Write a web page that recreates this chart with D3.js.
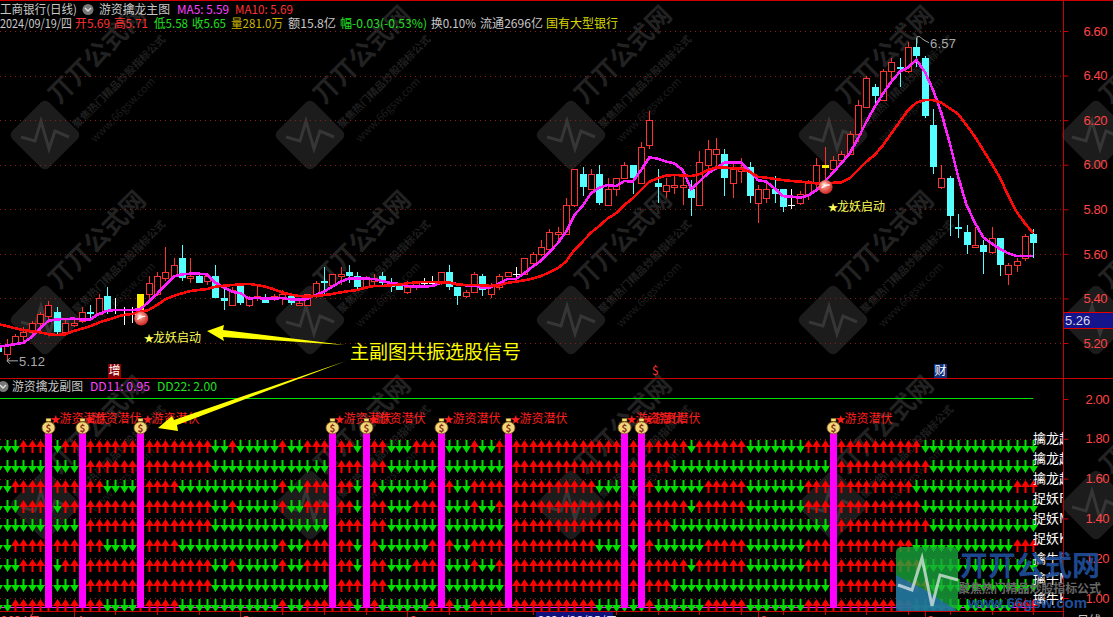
<!DOCTYPE html>
<html><head><meta charset="utf-8">
<script src="https://cdn.jsdelivr.net/npm/d3@7/dist/d3.min.js"></script>
<style>html,body{margin:0;padding:0;background:#000;overflow:hidden}svg{display:block}text{font-family:"Noto Sans CJK SC","Liberation Sans",sans-serif}</style>
</head><body><div id="chart"></div>
<script>
// ---------- price data ----------
const open=[5.18,5.15,5.20,5.23,5.25,5.29,5.32,5.34,5.25,5.28,5.30,5.34,5.33,5.41,5.35,5.33,5.33,5.33,5.42,5.42,5.49,5.50,5.58,5.49,5.50,5.48,5.50,5.40,5.37,5.46,5.37,5.40,5.40,5.40,5.40,5.41,5.37,5.37,5.41,5.48,5.46,5.50,5.52,5.50,5.45,5.48,5.50,5.47,5.46,5.43,5.45,5.47,5.47,5.47,5.52,5.45,5.41,5.43,5.50,5.42,5.45,5.50,5.51,5.51,5.56,5.60,5.62,5.69,5.69,5.82,5.96,5.89,5.96,5.82,5.89,5.94,6.00,5.92,6.09,5.92,5.88,5.90,5.90,5.89,5.82,6.00,6.05,6.05,5.92,5.97,5.99,5.83,5.85,5.89,5.89,5.82,5.83,5.87,5.92,6.00,5.98,6.02,6.05,6.14,6.26,6.35,6.29,6.42,6.44,6.42,6.53,6.48,6.18,5.90,5.94,5.72,5.70,5.63,5.64,5.61,5.67,5.51,5.55,5.58,5.69];
const high=[5.19,5.22,5.24,5.27,5.30,5.34,5.39,5.36,5.31,5.31,5.36,5.37,5.42,5.45,5.40,5.36,5.36,5.42,5.50,5.52,5.63,5.58,5.64,5.58,5.52,5.51,5.55,5.45,5.45,5.47,5.41,5.46,5.42,5.42,5.44,5.42,5.39,5.42,5.48,5.54,5.51,5.54,5.55,5.52,5.50,5.51,5.52,5.49,5.46,5.48,5.48,5.49,5.50,5.52,5.55,5.45,5.44,5.52,5.51,5.47,5.51,5.52,5.54,5.58,5.61,5.66,5.71,5.72,5.85,5.98,5.99,5.98,6.00,5.94,5.94,6.01,6.00,6.10,6.24,5.98,5.94,5.96,5.95,5.93,6.06,6.11,6.12,6.07,6.01,6.03,6.01,5.91,5.92,5.95,5.89,5.89,5.88,5.93,6.03,6.08,6.04,6.06,6.15,6.29,6.40,6.36,6.43,6.48,6.48,6.55,6.57,6.49,6.25,6.00,5.95,5.78,5.73,5.72,5.66,5.72,5.67,5.56,5.58,5.69,5.71];
const low=[5.15,5.12,5.19,5.20,5.23,5.25,5.29,5.23,5.24,5.27,5.29,5.31,5.33,5.33,5.33,5.28,5.29,5.33,5.38,5.41,5.48,5.49,5.48,5.47,5.47,5.46,5.40,5.35,5.37,5.37,5.36,5.39,5.38,5.39,5.37,5.37,5.37,5.37,5.40,5.42,5.45,5.46,5.47,5.44,5.45,5.46,5.46,5.43,5.44,5.42,5.44,5.45,5.46,5.46,5.44,5.37,5.40,5.43,5.41,5.40,5.44,5.50,5.49,5.51,5.56,5.59,5.62,5.65,5.69,5.81,5.86,5.89,5.82,5.82,5.86,5.94,5.87,5.92,6.07,5.83,5.85,5.87,5.82,5.77,5.82,5.98,5.98,5.86,5.85,5.92,5.83,5.74,5.83,5.83,5.79,5.80,5.82,5.84,5.89,5.93,5.98,6.02,6.05,6.10,6.26,6.26,6.29,6.38,6.35,6.41,6.44,6.21,5.96,5.89,5.68,5.67,5.60,5.63,5.51,5.60,5.50,5.46,5.52,5.57,5.58];
const close=[5.16,5.19,5.23,5.25,5.29,5.33,5.37,5.25,5.29,5.29,5.34,5.33,5.40,5.34,5.35,5.33,5.33,5.42,5.47,5.50,5.52,5.55,5.49,5.50,5.47,5.50,5.40,5.39,5.44,5.38,5.40,5.41,5.38,5.41,5.42,5.38,5.38,5.42,5.47,5.47,5.51,5.51,5.50,5.45,5.49,5.49,5.47,5.45,5.44,5.45,5.47,5.47,5.47,5.52,5.45,5.41,5.43,5.51,5.44,5.46,5.50,5.52,5.51,5.58,5.60,5.63,5.70,5.70,5.82,5.98,5.90,5.96,5.83,5.89,5.94,6.00,5.94,6.08,6.20,5.90,5.91,5.91,5.91,5.85,6.01,6.07,6.07,5.94,5.98,5.99,5.86,5.89,5.89,5.87,5.81,5.82,5.87,5.92,6.00,6.00,6.02,6.05,6.14,6.27,6.39,6.31,6.42,6.46,6.43,6.53,6.49,6.22,5.99,5.94,5.77,5.71,5.64,5.64,5.61,5.67,5.55,5.55,5.57,5.68,5.65];
const ma5=[5.184,5.188,5.195,5.201,5.228,5.266,5.300,5.306,5.308,5.309,5.306,5.305,5.330,5.344,5.348,5.348,5.348,5.351,5.385,5.420,5.460,5.498,5.508,5.511,5.511,5.508,5.471,5.450,5.430,5.423,5.400,5.402,5.399,5.399,5.402,5.396,5.394,5.397,5.415,5.430,5.453,5.475,5.490,5.490,5.489,5.487,5.478,5.469,5.465,5.456,5.453,5.453,5.456,5.470,5.469,5.465,5.459,5.459,5.447,5.450,5.468,5.487,5.487,5.513,5.542,5.569,5.607,5.647,5.699,5.774,5.815,5.871,5.897,5.909,5.904,5.927,5.924,5.976,6.033,6.027,6.014,6.006,5.976,5.891,5.924,5.961,5.984,6.009,6.011,6.011,5.972,5.931,5.924,5.894,5.859,5.857,5.852,5.861,5.886,5.924,5.964,6.006,6.051,6.118,6.193,6.260,6.320,6.373,6.417,6.437,6.470,6.417,6.335,6.230,6.096,5.946,5.819,5.740,5.674,5.647,5.622,5.602,5.590,5.590,5.590];
const ma10=[5.284,5.276,5.266,5.258,5.254,5.248,5.239,5.236,5.239,5.254,5.264,5.276,5.291,5.303,5.315,5.326,5.330,5.340,5.348,5.370,5.396,5.411,5.423,5.433,5.438,5.442,5.453,5.457,5.460,5.463,5.465,5.460,5.453,5.441,5.427,5.417,5.411,5.408,5.411,5.415,5.420,5.427,5.433,5.438,5.448,5.456,5.456,5.459,5.462,5.468,5.472,5.474,5.474,5.472,5.472,5.463,5.460,5.460,5.459,5.456,5.459,5.470,5.475,5.481,5.489,5.500,5.517,5.535,5.565,5.617,5.655,5.695,5.725,5.759,5.782,5.819,5.849,5.886,5.924,5.939,5.951,5.954,5.952,5.949,5.958,5.976,5.987,5.987,5.985,5.981,5.969,5.946,5.942,5.936,5.931,5.927,5.924,5.921,5.916,5.916,5.919,5.921,5.939,5.976,6.014,6.044,6.088,6.141,6.193,6.245,6.278,6.290,6.290,6.278,6.253,6.227,6.178,6.126,6.066,6.006,5.942,5.861,5.789,5.737,5.692];
const priceTicks=[6.6,6.4,6.2,6.0,5.8,5.6,5.4,5.2];
const dragonBars=[17,99];            // candles with the yellow start signal
const dragonValue=[5.31,5.90];       // ball price
// ---------- lower panel data ----------
const upA=[0,0,0,1,1,1,1,0,1,1, 1,1,1,1,1,1,1,1,1,1, 1,1,1,1,1,1,0,0,1,0, 0,0,0,0,1,0,0,1,1,1, 1,1,1,0,1,1,1,0,0,0, 1,1,1,1,0,0,0,1,0,0, 1,1,1,1,1,1,1,1,1,1, 1,1,1,1,1,1,1,1,1,1, 1,1,1,0,1,1,1,1,1,1, 0,0,0,0,0,0,0,1,1,1, 1,1,1,1,1,1,1,1,1,1, 1,0,0,0,0,0,0,0,0,0, 0,0,0,0,0];
const upB=[0,0,0,0,0,0,0,0,0,0, 1,1,1,1,1,1,1,1,1,1, 1,1,1,1,1,1,0,0,0,0, 0,0,0,0,0,0,0,0,0,0, 1,1,1,1,1,1,1,0,0,0, 0,0,0,0,0,0,0,0,0,0, 0,1,1,1,1,1,1,1,1,1, 1,1,1,1,1,1,1,1,1,1, 1,0,0,0,0,0,0,0,0,0, 0,0,0,0,0,0,0,0,0,0, 1,1,1,1,1,1,1,1,1,1, 1,1,0,0,0,0,0,0,0,0, 0,0,0,0,0];
const upC=[0,0,1,1,1,1,1,1,1,1, 1,1,1,0,0,0,0,1,1,1, 1,1,0,0,0,0,0,0,0,0, 0,0,0,0,1,0,0,1,1,1, 1,1,1,0,1,1,0,0,0,0, 0,0,1,1,1,0,0,1,1,1, 1,1,1,1,1,1,1,1,1,1, 1,1,0,0,0,0,0,0,1,0, 0,0,0,0,0,1,1,1,1,1, 0,0,0,0,0,0,0,1,1,1, 1,1,1,1,1,1,1,1,1,1, 0,0,0,0,0,0,0,0,0,0, 0,0,1,1,1];
const rowNames=["擒龙起F","擒龙起M","擒龙起K","捉妖F","捉妖M","捉妖K","擒牛F","擒牛M","擒牛K"];
const rowValues=[1.8,1.7,1.6,1.5,1.4,1.3,1.2,1.1,1.0];
const rowSeries=[upA,upB,upC,upA,upB,upC,upA,upB,upC];
const signalBars=[6,10,17,40,44,53,61,75,77,100];
const dd11=0.95, dd22=2.00, signalTop=1.83;
const subTicks=[2.0,1.8,1.6,1.4,1.2,1.0];

const W=1113,H=617,axisX=1063;
const x=d3.scaleLinear().domain([0,124]).range([-1.6,1033.3]);
const y=d3.scaleLinear().domain([5.2,6.6]).range([343,31]);
const y2=d3.scaleLinear().domain([1.0,2.0]).range([598,399]);
const px=i=>Math.round(x(i))+.5;

const svg=d3.select("#chart").append("svg").attr("width",W).attr("height",H).attr("viewBox",[0,0,W,H]);
svg.append("rect").attr("width",W).attr("height",H).attr("fill","#000");
const defs=svg.append("defs");
const grad=defs.append("radialGradient").attr("id","ball").attr("cx","40%").attr("cy","35%").attr("r","70%");
grad.append("stop").attr("offset","0%").attr("stop-color","#ffffff");
grad.append("stop").attr("offset","35%").attr("stop-color","#f08070");
grad.append("stop").attr("offset","100%").attr("stop-color","#c81e1e");
defs.append("clipPath").attr("id","plot").append("rect").attr("width",axisX).attr("height",H);

// ---------- background watermarks ----------
const wmCentres=[[45,135],[310,135],[571,135],[833,135],[1096,135],[45,320],[310,320],[571,320],[833,320],[1096,320],[45,505],[310,505],[571,505],[833,505],[1096,505]];
const wm=svg.append("g");
wmCentres.forEach(([cx,cy])=>{
  const g=wm.append("g").attr("transform",`translate(${cx},${cy})`);
  g.append("rect").attr("x",-26).attr("y",-26).attr("width",52).attr("height",52).attr("rx",6).attr("fill","#1c1c1c").attr("transform","rotate(45)");
  g.append("path").attr("d","M-24,2 L-10,6 L-4,-14 L4,14 L10,-4 L24,2").attr("fill","none").attr("stroke","#363636").attr("stroke-width",3);
  const t=(dx,dy,s,size,w,c)=>g.append("text").attr("transform",`translate(${dx},${dy}) rotate(-45)`).attr("font-size",size).attr("font-weight",w).attr("fill",c).text(s);
  t(14,-30,"丌丌公式网",25,700,"#222222");
  t(32,-6,"聚焦热门精品炒股指标公式",10.5,700,"#1f1f1f");
  t(50,8,"www.66gsw.com",11,400,"#1d1d1d");
});

// ---------- grid ----------
const grid=svg.append("g").attr("stroke","#8c1c1c").attr("stroke-dasharray","1 4");
grid.selectAll("line.p").data(priceTicks).join("line").attr("class","p").attr("x1",0).attr("x2",axisX).attr("y1",d=>Math.round(y(d))+.5).attr("y2",d=>Math.round(y(d))+.5);
grid.selectAll("line.s").data(subTicks.slice(1)).join("line").attr("class","s").attr("x1",0).attr("x2",axisX).attr("y1",d=>Math.round(y2(d))+.5).attr("y2",d=>Math.round(y2(d))+.5);

// ---------- candles ----------
const RED="#ff3232",CY="#55ffff";
const candles=svg.append("g").attr("clip-path","url(#plot)");
open.forEach((o,i)=>{
  const c=close[i],h=high[i],l=low[i],cx=px(i);
  const top=Math.round(y(Math.max(o,c))),bot=Math.round(y(Math.min(o,c)));
  const hy=Math.round(y(h)),ly=Math.round(y(l));
  const sig=dragonBars.includes(i);
  const col=c>o?RED:(c<o?CY:(sig?RED:"#ffffff"));
  const g=candles.append("g");
  g.append("line").attr("x1",cx).attr("x2",cx).attr("y1",hy).attr("y2",top).attr("stroke",col);
  g.append("line").attr("x1",cx).attr("x2",cx).attr("y1",bot).attr("y2",ly).attr("stroke",col);
  if(sig){
    g.append("rect").attr("x",cx-3.5).attr("y",top).attr("width",7).attr("height",Math.max(3,bot-top)).attr("fill","#ffee00");
  }else if(c>o){
    g.append("rect").attr("x",cx-3).attr("y",top+.5).attr("width",6).attr("height",Math.max(1,bot-top)).attr("fill","#000").attr("stroke",RED);
  }else if(c<o){
    g.append("rect").attr("x",cx-3.5).attr("y",top).attr("width",7).attr("height",Math.max(2,bot-top)).attr("fill",CY);
  }else{
    g.append("line").attr("x1",cx-3.5).attr("x2",cx+3.5).attr("y1",top+.5).attr("y2",top+.5).attr("stroke",col);
  }
});

// ---------- moving averages ----------
const lineGen=d3.line().x((d,i)=>x(i)).y(d=>y(d));
const lines=svg.append("g").attr("fill","none").attr("clip-path","url(#plot)").attr("shape-rendering","crispEdges");
lines.append("path").attr("d",lineGen(ma5)).attr("stroke","#ff20ff").attr("stroke-width",2.6);
lines.append("path").attr("d",lineGen(ma10)).attr("stroke","#ff0a0a").attr("stroke-width",2.6);

// start-signal balls
dragonBars.forEach((b,k)=>{
  const cx=x(b)+1,cy=y(dragonValue[k]);
  svg.append("circle").attr("cx",cx).attr("cy",cy).attr("r",7).attr("fill","url(#ball)");
  svg.append("path").attr("d",`M${cx-4},${cy+1} Q${cx},${cy-3} ${cx+4},${cy-2}`).attr("stroke","#fff").attr("stroke-width",1.3).attr("fill","none");
});

// ---------- lower panel ----------
const lower=svg.append("g").attr("clip-path","url(#plot)");
lower.append("line").attr("x1",0).attr("x2",x(124)).attr("y1",y2(dd22)-.5).attr("y2",y2(dd22)-.5).attr("stroke","#00e000");
lower.append("line").attr("x1",0).attr("x2",axisX-30).attr("y1",Math.round(y2(dd11))-.5).attr("y2",Math.round(y2(dd11))-.5).attr("stroke","#ff20ff");
const UP="M0.5,1L5,8L1.5,8L1.5,14L-0.5,14L-0.5,8L-4,8Z",DOWN="M-0.5,1L1.5,1L1.5,7L5,7L0.5,14L-4,7L-0.5,7Z";
rowValues.forEach((v,r)=>{
  const ry=Math.round(y2(v));
  rowSeries[r].forEach((u,i)=>{
    lower.append("path").attr("transform",`translate(${Math.round(x(i))},${ry})`).attr("d",u?UP:DOWN).attr("fill",u?"#ff0000":"#00dd00");
  });
});
// signal bars, money bags and labels
signalBars.forEach(i=>{
  const cx=x(i);
  lower.append("rect").attr("x",Math.round(cx)-3).attr("y",y2(signalTop)).attr("width",7).attr("height",y2(dd11)-y2(signalTop)).attr("fill","#ff00ff");
});
signalBars.forEach(i=>{
  const cx=Math.round(x(i))+.5,top=y2(signalTop);
  const t=lower.append("text").attr("x",cx+2).attr("y",top-10).attr("fill","#ff1e1e").attr("font-size",12);
  t.append("tspan").attr("font-size",10).text("★");
  t.append("tspan").attr("dx",-1).text("游资潜伏");
  const b=lower.append("g").attr("transform",`translate(${cx},${top})`);
  b.append("rect").attr("x",-2.5).attr("y",-14.5).attr("width",5).attr("height",3).attr("fill","#f8e070").attr("stroke","#7a4a10").attr("stroke-width",.5);
  b.append("ellipse").attr("cy",-5).attr("rx",6.5).attr("ry",6).attr("fill","#f0d878").attr("stroke","#8a6020").attr("stroke-width",.8);
  b.append("text").attr("y",-1).attr("text-anchor","middle").attr("font-size",10).attr("font-weight",700).attr("fill","#8a3020").text("$");
});
// row names
lower.selectAll("text.row").data(rowNames).join("text").attr("class","row").attr("x",1033).attr("y",(d,i)=>y2(rowValues[i])+4.5).attr("fill","#fff").attr("font-size",13).text(d=>d);

// ---------- frame and axes ----------
const frame=svg.append("g").attr("stroke","#cc0000");
frame.append("line").attr("x1",0).attr("x2",W).attr("y1",.5).attr("y2",.5);
frame.append("line").attr("x1",0).attr("x2",W).attr("y1",378.5).attr("y2",378.5);
frame.append("line").attr("x1",0).attr("x2",axisX).attr("y1",611.5).attr("y2",611.5);
frame.append("line").attr("x1",axisX+.5).attr("x2",axisX+.5).attr("y1",0).attr("y2",H);
const fmt=d3.format(".2f");
const styleAxis=g=>{g.select(".domain").remove();g.selectAll("line").attr("stroke","#cc0000");
  g.selectAll("text").attr("fill","#ff4444").attr("font-size",13).attr("letter-spacing","-0.4").style("font-family","'Liberation Sans'");};
svg.append("g").attr("transform",`translate(${axisX+.5},0)`).call(d3.axisRight(y).tickValues(priceTicks).tickFormat(fmt).tickSize(5).tickPadding(15)).call(styleAxis);
svg.append("g").attr("transform",`translate(${axisX+.5},0)`).call(d3.axisRight(y2).tickValues(subTicks).tickFormat(fmt).tickSize(5).tickPadding(17)).call(styleAxis);
// current price tag
svg.append("rect").attr("x",axisX+1).attr("y",312).attr("width",W-axisX).attr("height",16).attr("fill","#14148c");
svg.append("line").attr("x1",axisX).attr("x2",W).attr("y1",312.5).attr("y2",312.5).attr("stroke","#e00000");
svg.append("line").attr("x1",axisX).attr("x2",W).attr("y1",328.5).attr("y2",328.5).attr("stroke","#e00000");
svg.append("text").attr("x",axisX+2).attr("y",325).attr("fill","#d8d8e8").attr("font-size",13).style("font-family","'Liberation Sans'").text("5.26");

// ---------- date axis ----------
const monthBars=[9,29,49,91,111];
const monthNames=["4","5","6","8","9"];
const dateAxis=svg.append("g");
d3.range(4,125,5).forEach(i=>dateAxis.append("line").attr("x1",px(i)).attr("x2",px(i)).attr("y1",612).attr("y2",615).attr("stroke","#cc0000"));
monthBars.forEach((b,k)=>{
  dateAxis.append("line").attr("x1",px(b)).attr("x2",px(b)).attr("y1",612).attr("y2",617).attr("stroke","#cc0000");
  dateAxis.append("text").attr("x",px(b)+2).attr("y",625).attr("fill","#ff4444").attr("font-size",12).text(monthNames[k]);
});
dateAxis.append("text").attr("x",1).attr("y",625).attr("fill","#ff4444").attr("font-size",12).text("2024年");
dateAxis.append("rect").attr("x",536).attr("y",612).attr("width",77).attr("height",6).attr("fill","#10107c");
dateAxis.append("text").attr("x",538).attr("y",625).attr("fill","#e0e0ff").attr("font-size",12).text("2024/06/25/二");
dateAxis.append("text").attr("x",1077).attr("y",625).attr("fill","#c8c8c8").attr("font-size",12).text("日线");

// ---------- header text ----------
const headerTop=[["工商银行(日线)",0,77,"#c8c8c8"],["游资擒龙主图",99,71,"#c8c8c8"],["MA5: 5.59",177,52,"#ff40ff"],["MA10: 5.69",235,58,"#ff3030"]];
const headerInfo=[["2024/09/19/四",0,72,"#c8c8c8"],["开5.69",75,35,"#ff3030"],["高5.71",114,34,"#ff3030"],["低5.58",154,34,"#20e020"],["收5.65",192,34,"#20e020"],["量281.0万",231,52,"#c8b400"],["额15.8亿",288,48,"#c8c8c8"],["幅-0.03(-0.53%)",340,87,"#20e020"],["换0.10%",431,45,"#c8c8c8"],["流通2696亿",480,63,"#c8c8c8"],["国有大型银行",546,72,"#d8d800"]];
const headerSub=[["游资擒龙副图",12,71,"#c8c8c8"],["DD11: 0.95",90,60,"#ff40ff"],["DD22: 2.00",157,60,"#20e020"]];
const head=(list,baseline)=>list.forEach(([s,xp,w,c])=>svg.append("text").attr("x",xp).attr("y",baseline).attr("fill",c).attr("font-size",12).attr("textLength",w).attr("lengthAdjust","spacingAndGlyphs").text(s));
head(headerTop,14);head(headerInfo,28);head(headerSub,391);
const icon=(cx,cy)=>{svg.append("circle").attr("cx",cx).attr("cy",cy).attr("r",5.5).attr("fill","#777");
  svg.append("path").attr("d",`M${cx-3},${cy-1.5}L${cx},${cy+1.5}L${cx+3},${cy-1.5}`).attr("fill","none").attr("stroke","#ddd").attr("stroke-width",1.5);};
icon(88,9.5);icon(3,386.5);

// ---------- highs, lows and labels ----------
svg.append("path").attr("d",`M18,${y(5.12)}H7M10,${y(5.12)-3}L7,${y(5.12)}L10,${y(5.12)+3}`).attr("fill","none").attr("stroke","#aaa");
svg.append("text").attr("x",19).attr("y",y(5.12)+5).attr("fill","#aaa").attr("font-size",13).attr("letter-spacing","0.2").style("font-family","'Liberation Sans'").text("5.12");
svg.append("path").attr("d",`M917,${y(6.57)+6}V${y(6.57)-1}H920L922,${y(6.57)+1}L925,${y(6.57)+3}L929,${y(6.57)+5}`).attr("fill","none").attr("stroke","#aaa");
svg.append("text").attr("x",930).attr("y",y(6.57)+10).attr("fill","#aaa").attr("font-size",13).attr("letter-spacing","0.2").style("font-family","'Liberation Sans'").text("6.57");

const startLabels=[[144,342],[828,211]];
startLabels.forEach(([lx,ly])=>{
  const t=svg.append("text").attr("x",lx).attr("y",ly).attr("fill","#ffff55").attr("font-size",12);
  t.append("tspan").attr("font-size",10).text("★");
  t.append("tspan").attr("dx",-1).text("龙妖启动");
});

// news markers
[["增",108,"#8b0000"],["财",934,"#10307a"]].forEach(([s,lx,c])=>{
  svg.append("rect").attr("x",lx).attr("y",364).attr("width",13).attr("height",14).attr("fill",c);
  svg.append("text").attr("x",lx+.5).attr("y",375).attr("fill","#fff").attr("font-size",12).text(s);
});
svg.append("text").attr("x",652).attr("y",375).attr("fill","#ff3030").attr("font-size",12).text("$");

// annotation
svg.append("text").attr("x",350).attr("y",359).attr("fill","#ffff00").attr("font-size",19).text("主副图共振选股信号");
const ann=svg.append("g").attr("fill","#ffff00");
ann.append("path").attr("d","M207,331L224,325L223,330L345,345L223,337L224,341Z");
ann.append("path").attr("d","M158,428L172,416L174,420L346,361L177,425L178,431Z");

// ---------- bottom-right site logo ----------
const site=svg.append("g");
site.append("rect").attr("x",896).attr("y",547).attr("width",62).attr("height",64).attr("rx",5).attr("fill","#19a83c").attr("opacity",.78);
site.append("path").attr("d","M896,575L925,590L958,611H896Z").attr("fill","#2468b4").attr("opacity",.75);
site.append("path").attr("d","M898,585L912,590L922,558L932,606L940,575L958,580").attr("fill","none").attr("stroke","#e8f0f0").attr("stroke-width",3).attr("opacity",.7);
site.append("text").attr("x",960).attr("y",576).attr("fill","#1f4e9a").attr("font-size",28).attr("font-weight",700).attr("textLength",140).attr("opacity",.92).text("丌丌公式网");
site.append("text").attr("x",958).attr("y",593).attr("fill","#666").attr("font-size",12).attr("font-weight",700).attr("textLength",143).text("聚焦热门精品炒股指标公式");
site.append("text").attr("x",968).attr("y",608).attr("fill","#1f4e9a").attr("font-size",15).attr("font-weight",700).attr("textLength",119).style("font-family","'Liberation Sans'").text("www.66gsw.com");
</script></body></html>
